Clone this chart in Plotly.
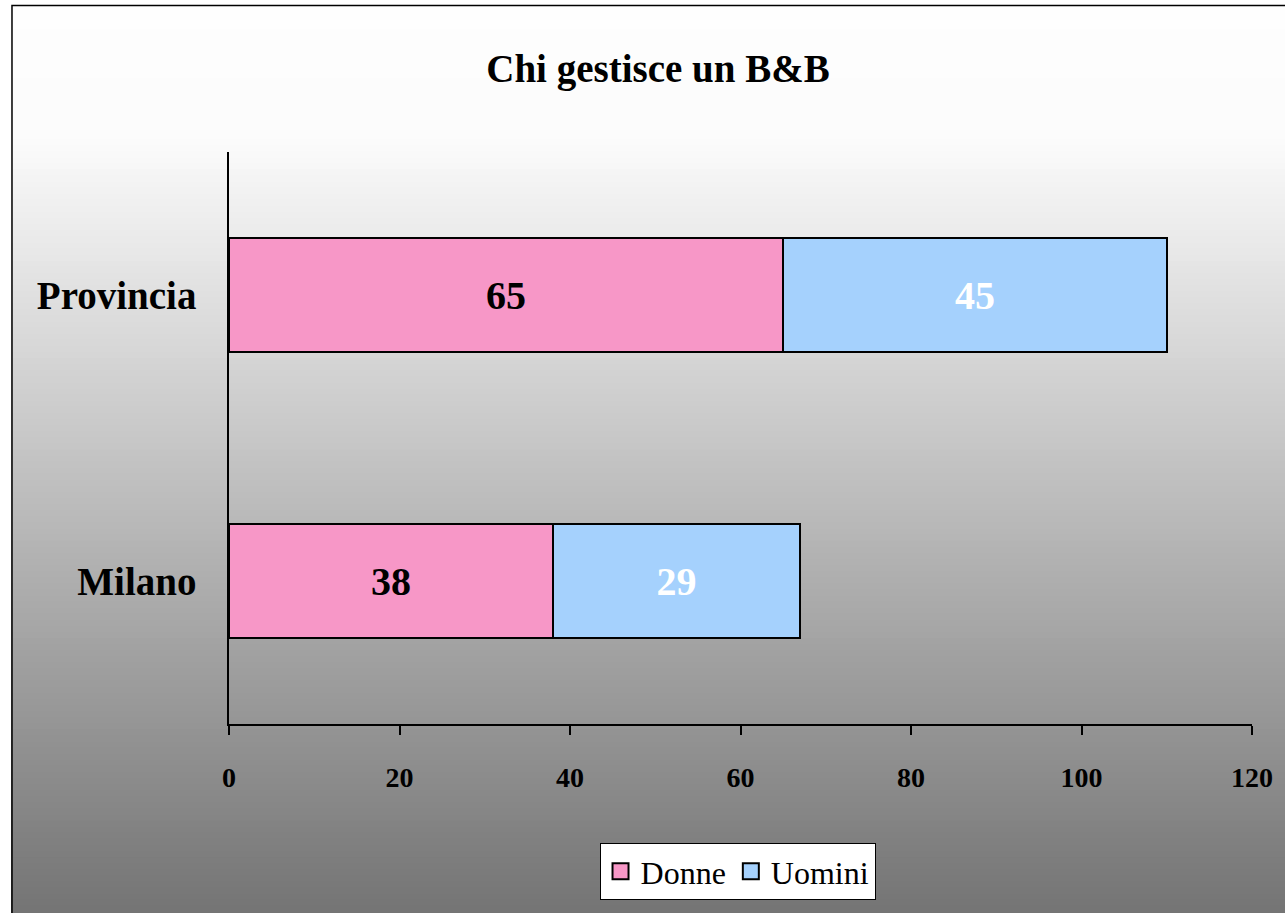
import plotly.graph_objects as go

categories = ["Milano", "Provincia"]
donne = [38, 65]
uomini = [29, 45]
series_names = ["Donne", "Uomini"]
series_colors = ["#F797C7", "#A5D1FD"]
x_ticks = [0, 20, 40, 60, 80, 100, 120]
title_text = "Chi gestisce un B&B"

W, H = 1285, 913
L, R, T, B = 229, 26, 152, 189
plot_h = H - T - B
plot_w = W - L - R

def py(y):
    return (H - B - y) / plot_h

def px(x):
    return (x - L) / plot_w

SERIF = "Liberation Serif, Times New Roman, serif"

fig = go.Figure()
fig.add_trace(go.Bar(
    y=categories, x=donne, name=series_names[0], orientation="h",
    marker=dict(color=series_colors[0], line=dict(color="black", width=2)),
    text=[str(v) for v in donne], textposition="inside", insidetextanchor="middle",
    textfont=dict(family=SERIF, size=40, color="black", weight="bold"),
    hoverinfo="skip", showlegend=False,
))
fig.add_trace(go.Bar(
    y=categories, x=uomini, name=series_names[1], orientation="h",
    marker=dict(color=series_colors[1], line=dict(color="black", width=2)),
    text=[str(v) for v in uomini], textposition="inside", insidetextanchor="middle",
    textfont=dict(family=SERIF, size=40, color="white", weight="bold"),
    hoverinfo="skip", showlegend=False,
))
# legend entries with larger square swatches
for name, col in zip(series_names, series_colors):
    fig.add_trace(go.Scatter(
        x=[None], y=[None], mode="markers", name=name,
        marker=dict(symbol="square", size=18, color=col, line=dict(color="black", width=2)),
        hoverinfo="skip",
    ))

# background vertical gradient (paper coordinates)
shapes = []
y_top, y_bot = 5, 918
n = 150
for i in range(n):
    y0 = y_top + (y_bot - y_top) * i / n
    ym = y0 + (y_bot - y_top) / n / 2
    if ym <= 135:
        c = 254 - (ym - 5) * 0.02
    else:
        c = 252 - (ym - 135) * 0.175
    c = int(max(0, min(255, round(c))))
    shapes.append(dict(type="rect", xref="paper", yref="paper",
                       x0=px(10), x1=px(1300), y0=py(y_bot), y1=py(y0),
                       fillcolor=f"rgb({c},{c},{c})", line=dict(width=0),
                       layer="below"))
shapes.append(dict(type="rect", xref="paper", yref="paper",
                   x0=px(10.5), x1=px(1330), y0=py(950), y1=py(5.5),
                   fillcolor="rgba(0,0,0,0)", line=dict(color="black", width=1.5),
                   layer="above"))

fig.update_layout(
    width=W, height=H,
    margin=dict(l=L, r=R, t=T, b=B, pad=0),
    paper_bgcolor="white",
    plot_bgcolor="rgba(0,0,0,0)",
    barmode="stack",
    bargap=0.6,
    shapes=shapes,
    title=dict(text=title_text, xref="container", x=658 / W, xanchor="center",
               yref="container", y=1 - 68 / H, yanchor="middle",
               font=dict(family=SERIF, size=39, color="black", weight="bold")),
    legend=dict(orientation="h", x=px(741), xanchor="center", y=py(843), yanchor="top",
                bgcolor="white", bordercolor="black", borderwidth=1,
                font=dict(family=SERIF, size=32, color="black"),
                traceorder="normal", itemwidth=30),
    showlegend=True,
    xaxis=dict(range=[0, 120], tickvals=x_ticks, showgrid=False, zeroline=False,
               showline=True, linecolor="black", linewidth=1.5,
               ticks="outside", ticklen=9, tickcolor="black", tickwidth=1.5,
               ticklabelstandoff=19,
               tickfont=dict(family=SERIF, size=28, color="black", weight="bold")),
    yaxis=dict(showgrid=False, zeroline=False, showline=True, linecolor="black", linewidth=1.5,
               ticks="", ticklabelstandoff=23,
               tickfont=dict(family=SERIF, size=39, color="black", weight="bold")),
)

fig.write_html("out.html", config={"displayModeBar": False},
               post_script="document.body.style.margin='0';")
